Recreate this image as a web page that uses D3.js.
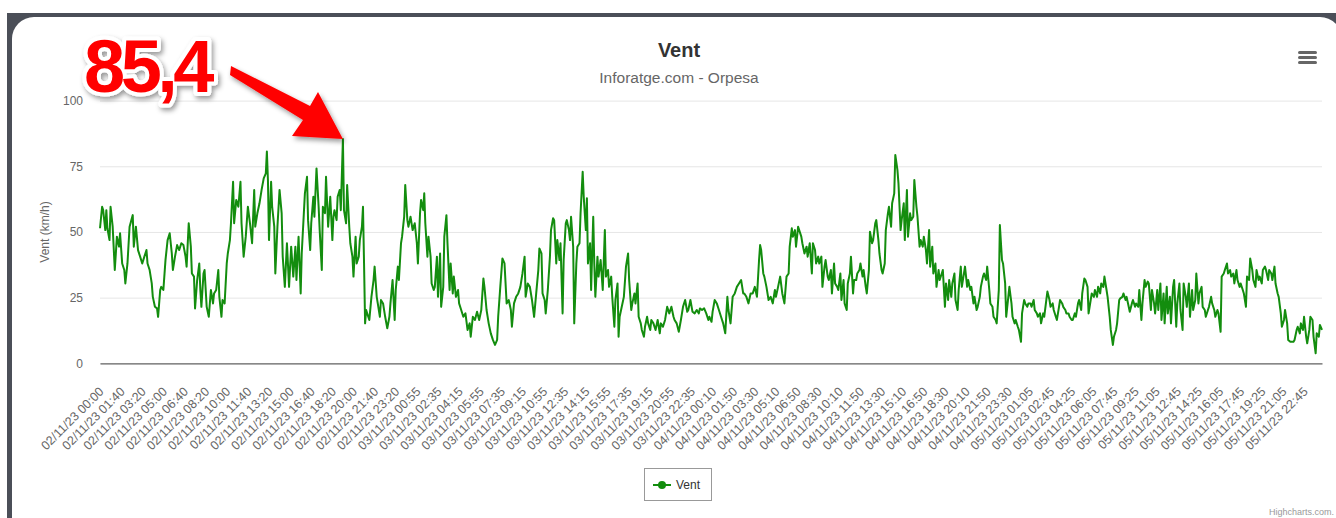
<!DOCTYPE html>
<html>
<head>
<meta charset="utf-8">
<script src="https://cdn.jsdelivr.net/npm/d3@7"></script>
<style>
  body { margin: 0; background: #fff; }
  svg { display: block; font-family: "Liberation Sans", Arial, Helvetica, sans-serif; }
</style>
</head>
<body>
<svg id="chart" width="1336" height="518"></svg>
<script>
// labels shown every 20 points on the category axis
var tickLabels = [
  "02/11/23 00:00", "02/11/23 01:40", "02/11/23 03:20", "02/11/23 05:00", "02/11/23 06:40",
  "02/11/23 08:20", "02/11/23 10:00", "02/11/23 11:40", "02/11/23 13:20", "02/11/23 15:00",
  "02/11/23 16:40", "02/11/23 18:20", "02/11/23 20:00", "02/11/23 21:40", "02/11/23 23:20",
  "03/11/23 00:55", "03/11/23 02:35", "03/11/23 04:15", "03/11/23 05:55", "03/11/23 07:35",
  "03/11/23 09:15", "03/11/23 10:55", "03/11/23 12:35", "03/11/23 14:15", "03/11/23 15:55",
  "03/11/23 17:35", "03/11/23 19:15", "03/11/23 20:55", "03/11/23 22:35",
  "04/11/23 00:10", "04/11/23 01:50", "04/11/23 03:30", "04/11/23 05:10", "04/11/23 06:50",
  "04/11/23 08:30", "04/11/23 10:10", "04/11/23 11:50", "04/11/23 13:30", "04/11/23 15:10",
  "04/11/23 16:50", "04/11/23 18:30", "04/11/23 20:10", "04/11/23 21:50", "04/11/23 23:30",
  "05/11/23 01:05", "05/11/23 02:45", "05/11/23 04:25", "05/11/23 06:05", "05/11/23 07:45",
  "05/11/23 09:25", "05/11/23 11:05", "05/11/23 12:45", "05/11/23 14:25", "05/11/23 16:05",
  "05/11/23 17:45", "05/11/23 19:25", "05/11/23 21:05", "05/11/23 22:45"
];
var tickStep = 20;
var lastIndex = 1157;
var yTicks = [0, 25, 50, 75, 100];

// [point index, wind km/h]
var windPoints = [
  [0,51.4],[2,59.6],[3,58.3],[5,50.7],[6,58.3],[7,51.4],[9,46.9],[10,59.6],[12,52.0],[14,35.5],[16,48.2],[18,44.4],[19,49.5],[21,38.0],[23,35.5],[24,30.4],[26,38.0],[28,52.0],[31,56.4],[32,44.4],[34,52.0],[36,43.1],[38,40.6],[40,38.0],[42,40.6],[44,43.1],[45,38.0],[47,35.5],[49,30.4],[50,25.3],[52,21.5],[54,20.9],[55,17.7],[57,27.9],[58,29.1],[60,27.9],[62,39.3],[64,46.9],[66,49.5],[68,41.8],[69,35.5],[71,40.6],[73,45.0],[75,43.1],[77,45.7],[79,45.0],[81,40.6],[82,36.8],[84,53.3],[86,44.4],[87,34.2],[89,33.0],[90,20.9],[92,31.7],[94,38.0],[95,27.9],[96,21.5],[98,34.2],[99,35.5],
  [101,21.5],[103,17.7],[105,27.9],[107,22.8],[108,26.6],[110,27.9],[112,35.5],[113,25.3],[115,17.7],[116,24.1],[118,22.8],[120,38.0],[121,41.8],[123,46.9],[124,53.3],[126,69.1],[127,53.3],[129,62.2],[131,59.6],[133,69.1],[134,53.3],[136,40.6],[138,48.2],[140,59.6],[142,53.3],[144,45.7],[146,66.0],[147,52.0],[149,57.1],[151,60.9],[153,66.0],[155,70.4],[157,72.3],[158,80.6],[159,69.8],[160,46.9],[162,69.1],[163,59.6],[165,52.0],[166,34.2],[168,52.0],[170,66.0],[172,57.1],[173,40.6],[175,29.1],[177,45.7],[179,29.1],[181,44.4],[183,33.0],[185,44.4],[186,31.7],[188,48.2],[190,26.6],[191,41.8],[193,57.1],[194,64.7],[196,71.0],[197,54.5],[199,43.1],
  [200,53.3],[202,63.4],[203,55.8],[205,74.2],[207,59.6],[208,50.7],[210,35.5],[211,59.6],[213,57.1],[214,71.0],[216,52.0],[218,63.4],[220,46.9],[221,55.8],[222,58.3],[224,54.5],[225,63.4],[227,66.0],[228,58.3],[230,85.4],[231,58.3],[233,53.3],[234,67.9],[236,52.0],[237,45.7],[239,40.6],[240,33.0],[242,48.2],[243,38.0],[245,40.6],[246,46.9],[248,52.0],[249,59.6],[250,38.0],[251,15.2],[252,20.3],[254,17.7],[255,16.5],[257,25.3],[259,31.7],[260,36.8],[262,25.3],[263,22.8],[265,17.7],[266,24.1],[268,22.8],[270,17.7],[272,13.3],[274,17.7],[275,22.8],[277,31.7],[279,16.5],[280,27.9],[282,36.8],[283,31.7],[285,45.7],[286,48.2],[288,55.8],[289,67.9],[291,54.5],[292,52.0],[294,55.8],[296,50.7],[298,53.3],
  [300,45.7],[301,38.0],[303,57.1],[304,62.2],[306,58.3],[307,64.7],[308,53.3],[310,40.6],[311,48.2],[313,40.6],[314,30.4],[316,27.9],[317,29.1],[319,40.6],[320,25.3],[322,41.8],[323,21.5],[325,29.1],[326,48.2],[328,56.4],[329,45.7],[331,27.9],[332,38.0],[334,26.6],[335,33.0],[337,25.3],[339,27.9],[340,22.8],[342,20.3],[344,17.7],[346,19.0],[348,12.7],[350,15.2],[351,10.1],[353,17.7],[355,16.5],[357,19.6],[359,16.5],[361,20.3],[363,32.3],[364,29.1],[366,20.3],[368,15.2],[370,11.4],[372,8.9],[374,7.0],[376,8.9],[377,17.7],[379,29.1],[381,39.9],[383,38.0],[385,22.8],[387,24.1],[389,20.3],[390,13.9],[392,22.8],[394,25.3],[396,26.6],[398,29.1],
  [400,34.2],[402,40.6],[403,25.3],[405,30.4],[407,29.1],[409,24.1],[411,17.7],[413,26.6],[415,35.5],[416,43.7],[418,41.8],[419,26.6],[421,24.1],[422,19.0],[424,27.9],[426,40.6],[427,50.7],[429,55.2],[430,54.5],[432,38.0],[433,46.9],[435,39.3],[436,45.7],[438,19.0],[439,39.3],[441,53.3],[442,54.5],[444,50.7],[445,46.9],[446,55.8],[448,44.4],[449,15.2],[451,38.0],[452,44.4],[454,45.7],[455,57.1],[457,72.9],[458,63.4],[460,50.7],[461,62.8],[462,38.0],[464,45.7],[465,27.9],[467,55.8],[468,38.0],[469,25.3],[471,40.6],[472,33.0],[474,39.3],[476,27.9],[478,50.7],[479,33.0],[481,35.5],[482,29.1],[484,33.0],[485,25.3],[487,13.9],[488,24.1],[490,30.4],[491,10.1],[492,17.7],[494,21.5],[496,25.3],[498,36.8],
  [500,41.8],[501,31.7],[503,20.3],[504,22.8],[506,26.6],[507,22.8],[509,30.4],[510,17.7],[512,15.2],[513,12.7],[515,10.1],[516,13.9],[518,17.7],[519,15.2],[521,12.7],[522,16.5],[524,15.2],[526,12.7],[528,16.5],[530,11.4],[531,15.2],[533,13.9],[535,16.5],[537,21.5],[539,19.0],[541,21.5],[543,17.7],[544,16.5],[546,15.2],[548,12.0],[550,16.5],[552,21.5],[554,24.1],[556,19.6],[557,20.3],[559,24.1],[561,19.6],[563,19.0],[565,20.3],[567,19.0],[568,20.9],[570,20.3],[572,20.9],[574,19.0],[576,16.5],[577,17.7],[579,15.8],[580,19.6],[582,24.1],[584,22.8],[586,20.3],[588,17.7],[590,15.2],[592,11.4],[594,25.3],[595,20.3],[597,15.2],[599,25.3],
  [601,26.6],[603,29.1],[605,30.4],[607,31.7],[609,26.6],[610,26.6],[612,25.3],[614,22.8],[616,26.6],[618,26.6],[620,29.1],[622,25.3],[624,39.3],[625,45.0],[626,43.1],[628,34.2],[629,33.0],[631,29.1],[633,24.1],[635,25.3],[637,22.8],[639,27.9],[640,25.3],[642,29.1],[644,33.0],[646,26.6],[648,22.8],[650,33.0],[652,34.2],[653,44.4],[655,51.4],[656,48.2],[658,50.7],[659,44.4],[661,52.0],[662,50.7],[664,48.2],[665,45.7],[667,41.8],[669,44.4],[670,40.6],[672,45.7],[674,34.2],[675,45.7],[677,43.1],[678,38.0],[680,40.6],[681,38.0],[683,40.6],[684,29.1],[686,36.8],[687,39.3],[689,33.0],[690,31.7],[692,35.5],[693,26.6],[695,38.0],[696,30.4],[698,29.1],[699,27.9],
  [701,34.2],[702,24.1],[704,31.7],[705,22.8],[707,20.3],[708,30.4],[710,34.2],[711,40.6],[713,26.6],[714,31.7],[716,31.7],[717,34.2],[719,35.5],[720,38.0],[722,33.0],[723,35.5],[725,29.1],[726,26.6],[728,35.5],[729,50.1],[731,45.7],[732,46.9],[734,53.3],[735,54.5],[737,46.9],[738,41.8],[740,35.5],[741,34.2],[743,38.0],[744,50.7],[746,57.1],[747,59.6],[749,52.0],[750,60.9],[752,64.7],[753,79.3],[755,73.6],[756,68.5],[758,50.7],[759,54.5],[761,60.9],[762,46.9],[764,66.0],[765,48.2],[767,57.1],[768,54.5],[770,55.8],[771,69.8],[773,59.6],[774,55.8],[776,44.4],[777,46.9],[779,44.4],[780,48.2],[782,43.1],[783,38.0],[785,50.7],[786,36.8],[788,44.4],[789,34.2],[791,38.0],[792,29.1],[794,35.5],[795,31.7],[797,34.2],[798,35.5],
  [800,21.5],[801,30.4],[803,24.1],[804,31.7],[806,25.3],[807,30.4],[809,34.2],[810,24.1],[812,20.3],[813,27.9],[815,36.8],[816,29.1],[818,34.2],[819,36.8],[821,29.1],[822,31.7],[824,27.9],[825,29.1],[827,22.8],[828,25.3],[830,20.3],[831,21.5],[833,25.3],[834,29.1],[836,33.0],[837,34.2],[839,31.7],[840,36.8],[842,27.9],[843,22.8],[845,21.5],[846,17.7],[848,16.5],[849,15.2],[851,27.9],[852,52.6],[854,39.3],[855,38.0],[857,30.4],[858,17.7],[860,25.3],[861,29.1],[863,22.8],[864,17.7],[866,15.2],[867,16.5],[869,13.9],[870,12.7],[872,8.2],[873,19.0],[875,24.1],[876,22.8],[878,21.5],[879,22.8],[881,22.8],[882,21.5],[884,24.1],[885,20.3],[887,19.0],[888,17.7],[890,19.0],[891,15.2],[893,19.0],[894,17.7],[896,24.1],[897,27.3],[899,24.1],
  [900,21.5],[902,22.8],[903,20.3],[905,17.7],[906,16.5],[908,21.5],[909,24.1],[911,22.8],[912,21.5],[914,20.3],[915,19.0],[917,19.0],[918,17.7],[920,16.5],[921,16.5],[923,19.0],[924,17.7],[926,22.8],[927,24.1],[929,20.3],[930,26.6],[932,32.3],[933,31.7],[935,29.1],[936,19.0],[938,24.1],[939,26.6],[941,25.3],[942,27.9],[944,25.3],[945,29.1],[947,26.6],[948,30.4],[950,29.1],[951,33.0],[953,27.9],[954,25.3],[956,17.7],[957,12.7],[959,7.0],[960,10.1],[962,12.7],[963,15.2],[965,24.1],[966,24.7],[968,25.3],[969,26.6],[971,24.1],[972,25.3],[974,21.5],[975,19.6],[977,22.8],[978,24.1],[980,21.5],[981,22.8],[983,21.5],[984,27.9],[986,16.5],[987,22.8],[989,31.7],[990,29.1],[992,31.1],[993,30.4],[995,20.3],[996,27.9],[998,22.8],[999,19.0],
  [1001,27.9],[1002,20.3],[1004,30.4],[1005,16.5],[1007,26.6],[1008,15.2],[1010,29.1],[1011,19.0],[1013,25.3],[1014,15.2],[1016,29.1],[1017,31.7],[1019,13.9],[1020,22.8],[1022,30.4],[1023,20.3],[1025,12.7],[1026,30.4],[1028,25.3],[1029,21.5],[1031,30.4],[1032,17.7],[1034,27.9],[1035,20.3],[1037,24.1],[1038,34.2],[1040,22.8],[1041,26.6],[1043,29.1],[1044,21.5],[1046,20.3],[1047,17.7],[1049,20.3],[1050,21.5],[1052,25.3],[1053,22.8],[1055,20.3],[1056,17.7],[1058,20.3],[1059,19.0],[1061,12.0],[1062,33.0],[1064,34.2],[1065,35.5],[1067,38.0],[1068,34.2],[1070,35.5],[1071,33.0],[1073,34.2],[1074,30.4],[1076,35.5],[1077,31.7],[1079,29.1],[1080,30.4],[1082,27.9],[1083,26.6],[1085,21.5],[1086,33.0],[1088,31.7],[1089,39.9],[1091,35.5],[1092,31.7],[1094,29.1],[1095,35.5],[1097,31.7],[1098,33.0],
  [1100,30.4],[1101,35.5],[1103,36.8],[1104,35.5],[1106,31.7],[1107,35.5],[1109,34.2],[1110,31.7],[1112,36.8],[1113,30.4],[1115,26.6],[1116,25.3],[1118,19.0],[1119,13.9],[1121,16.5],[1122,20.3],[1124,15.2],[1125,8.9],[1127,8.2],[1128,8.2],[1130,8.2],[1131,8.9],[1133,12.7],[1134,13.9],[1136,11.4],[1137,15.2],[1139,12.7],[1140,17.7],[1142,10.1],[1143,7.6],[1145,12.7],[1146,17.7],[1148,16.5],[1149,10.1],[1151,3.8],[1152,11.4],[1154,10.1],[1155,14.6],[1157,12.7]
];

var seriesName = "Vent";
var peakLabel = "85,4";
var peakIndex = 230;

var svg = d3.select("#chart");
var plotLeft = 100, plotRight = 1322, plotTop = 100.6, plotBottom = 363.3;

var x = d3.scaleLinear().domain([0, lastIndex]).range([plotLeft, plotRight]);
var y = d3.scaleLinear().domain([0, 100]).range([plotBottom, plotTop]);

// dark page frame + white card
svg.append("rect").attr("x", 7).attr("y", 13).attr("width", 1340).attr("height", 520).attr("fill", "#4b4f58");
svg.append("rect").attr("x", 12).attr("y", 17).attr("width", 1330).attr("height", 530).attr("rx", 22).attr("fill", "#fff");

svg.append("text")
  .attr("x", 679).attr("y", 57)
  .attr("text-anchor", "middle")
  .attr("font-size", 20).attr("font-weight", "bold")
  .attr("fill", "#333")
  .text("Vent");
svg.append("text")
  .attr("x", 679).attr("y", 83)
  .attr("text-anchor", "middle")
  .attr("font-size", 15.5)
  .attr("fill", "#666")
  .text("Inforatge.com - Orpesa");

// context menu button
[51, 56, 61].forEach(function (yy) {
  svg.append("rect").attr("x", 1298).attr("y", yy).attr("width", 19).attr("height", 3)
    .attr("rx", 1.5).attr("fill", "#666");
});

// y grid + labels
var yAxis = svg.append("g")
  .attr("transform", "translate(" + plotLeft + ",0)")
  .call(d3.axisLeft(y).tickValues(yTicks).tickSize(-(plotRight - plotLeft)).tickPadding(17));
yAxis.select(".domain").remove();
yAxis.selectAll("line").attr("stroke", "#e6e6e6");
yAxis.selectAll("text").attr("fill", "#666").attr("font-size", 12).attr("font-family", null);

svg.append("text")
  .attr("transform", "translate(49,232) rotate(-90)")
  .attr("text-anchor", "middle")
  .attr("font-size", 12)
  .attr("fill", "#666")
  .text("Vent (km/h)");

// x axis with rotated labels
var xAxis = svg.append("g")
  .attr("transform", "translate(0," + plotBottom + ")")
  .call(d3.axisBottom(x)
    .tickValues(d3.range(0, lastIndex + 1, tickStep))
    .tickFormat(function (d, i) { return tickLabels[i]; })
    .tickSize(0));
xAxis.select(".domain").attr("stroke", "#666").attr("stroke-width", 1.3);
xAxis.selectAll("text")
  .attr("y", null).attr("dy", null)
  .attr("text-anchor", "end")
  .attr("transform", "translate(4,29) rotate(-45)")
  .attr("fill", "#666").attr("font-size", 12.5).attr("font-family", null);

var line = d3.line()
  .x(function (d) { return x(d[0]); })
  .y(function (d) { return y(d[1]); });

svg.append("path")
  .datum(windPoints)
  .attr("d", line)
  .attr("fill", "none")
  .attr("stroke", "#138d0e")
  .attr("stroke-width", 2)
  .attr("stroke-linejoin", "round");

// legend
svg.append("rect").attr("x", 644.5).attr("y", 468.5).attr("width", 67).attr("height", 32)
  .attr("fill", "#fff").attr("stroke", "#999");
svg.append("line").attr("x1", 653).attr("x2", 671).attr("y1", 485).attr("y2", 485)
  .attr("stroke", "#138d0e").attr("stroke-width", 2);
svg.append("circle").attr("cx", 662).attr("cy", 485).attr("r", 4).attr("fill", "#138d0e");
svg.append("text").attr("x", 676).attr("y", 489).attr("font-size", 12).attr("fill", "#333").text(seriesName);

svg.append("text")
  .attr("x", 1334).attr("y", 515)
  .attr("text-anchor", "end")
  .attr("font-size", 9)
  .attr("fill", "#999")
  .text("Highcharts.com.");

// pasted-on annotation pointing at the peak
var defs = svg.append("defs");
var shadow = defs.append("filter").attr("id", "shadow")
  .attr("x", "-20%").attr("y", "-20%").attr("width", "140%").attr("height", "140%");
shadow.append("feDropShadow").attr("dx", 2).attr("dy", 3).attr("stdDeviation", 2.5)
  .attr("flood-color", "#000").attr("flood-opacity", 0.4);

var tipX = x(peakIndex), tipY = y(windPoints.find(function (d) { return d[0] === peakIndex; })[1]);
var arrowPts = [[231, 66], [310, 106], [318, 92], [tipX, tipY], [292, 136], [303, 120], [230, 75]];
svg.append("polygon")
  .attr("points", arrowPts.map(function (p) { return p.join(","); }).join(" "))
  .attr("fill", "#ff0000")
  .attr("filter", "url(#shadow)");

svg.append("text")
  .attr("x", 84).attr("y", 92)
  .attr("font-size", 74).attr("font-weight", "bold")
  .attr("letter-spacing", -4.5)
  .attr("fill", "#ff0000")
  .attr("stroke", "#fff").attr("stroke-width", 8).attr("stroke-linejoin", "round")
  .style("paint-order", "stroke")
  .attr("filter", "url(#shadow)")
  .text(peakLabel);
</script>
</body>
</html>
